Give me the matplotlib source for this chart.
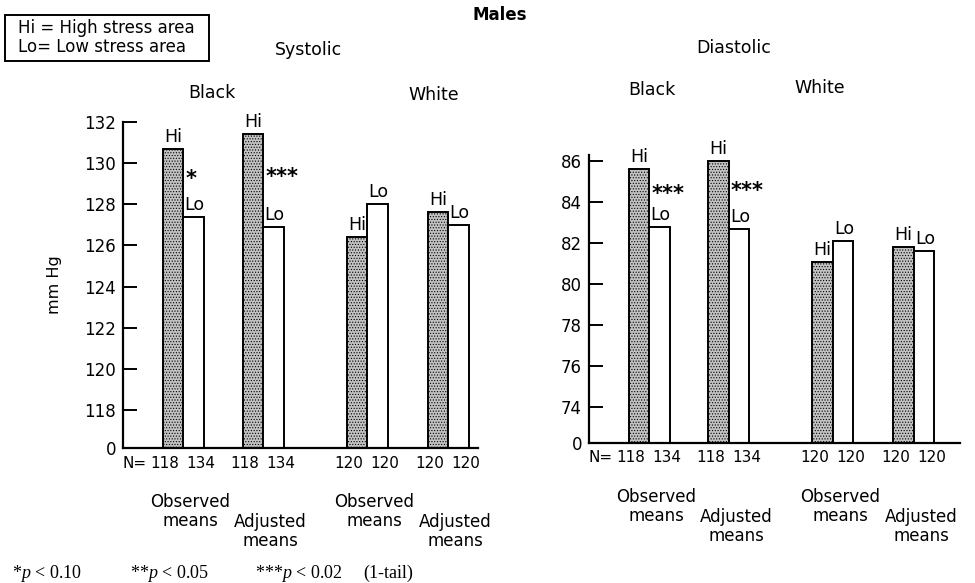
import numpy as np
import matplotlib
matplotlib.use("Agg")
import matplotlib.pyplot as plt
from matplotlib.patches import Rectangle

# values (mm Hg)
groups = ["Observed\nmeans", "Adjusted\nmeans", "Observed\nmeans", "Adjusted\nmeans"]
races = ["Black", "White"]
sys_hi = [130.7, 131.4, 126.4, 127.6]
sys_lo = [127.4, 126.9, 128.0, 127.0]
dia_hi = [85.6, 86.0, 81.1, 81.8]
dia_lo = [82.8, 82.7, 82.1, 81.6]
n_hi = [118, 118, 120, 120]
n_lo = [134, 134, 120, 120]
sys_stars = ["*", "***", "", ""]
dia_stars = ["***", "***", "", ""]
sys_ticks = [0, 118, 120, 122, 124, 126, 128, 130, 132]
dia_ticks = [0, 74, 76, 78, 80, 82, 84, 86]

plt.rcParams["font.family"] = "DejaVu Sans"
plt.rcParams["mathtext.fontset"] = "custom"
plt.rcParams["mathtext.rm"] = "Liberation Serif"
plt.rcParams["mathtext.it"] = "Liberation Serif:italic"
plt.rcParams["hatch.linewidth"] = 0.5

PX = 0.72  # pixels -> points at dpi 100
pos = np.array([2.93, 6.83, 11.9, 15.85])  # Hi/Lo boundary of each pair


def broken_scale(brk, gap):
    # linear above brk, the whole 0..brk range squeezed into `gap` units
    def fwd(v):
        v = np.asarray(v, dtype=float)
        return np.where(v >= brk, v, brk - gap * (brk - v) / brk)

    def inv(u):
        u = np.asarray(u, dtype=float)
        return np.where(u >= brk, u, brk - (brk - u) * brk / gap)

    return fwd, inv


def draw_panel(ax, hi, lo, stars, ticks, brk, gap, top, xmax):
    ax.set_yscale("function", functions=broken_scale(brk, gap))
    ax.bar(pos - 0.5, hi, width=1.0, color="#c2c2c2", edgecolor="black",
           linewidth=1.4, hatch="......", zorder=2)
    ax.bar(pos + 0.5, lo, width=1.0, color="white", edgecolor="black",
           linewidth=1.4, zorder=2)
    ax.set_ylim(0, top)
    ax.set_xlim(0, xmax)
    ax.set_yticks(ticks)
    ax.set_yticklabels([str(t) for t in ticks])
    ax.yaxis.set_minor_locator(matplotlib.ticker.NullLocator())
    ax.set_xticks([])
    ax.tick_params(axis="y", direction="in", length=10, width=1.4,
                   labelsize=12, pad=5)
    for s in ["top", "right"]:
        ax.spines[s].set_visible(False)
    for s in ["left", "bottom"]:
        ax.spines[s].set_linewidth(1.6)

    for i in range(len(pos)):
        ax.annotate("Hi", (pos[i] - 0.5, hi[i]), xytext=(0, 3 * PX),
                    textcoords="offset points", ha="center", va="bottom", fontsize=12.5)
        ax.annotate("Lo", (pos[i] + 0.55, lo[i]), xytext=(0, 3 * PX),
                    textcoords="offset points", ha="center", va="bottom", fontsize=12.5)
        if stars[i]:
            ax.annotate(stars[i], (pos[i] + 0.1, (hi[i] + lo[i]) / 2),
                        xytext=(0, 4 * PX), textcoords="offset points",
                        ha="left", va="center", fontsize=15, fontweight="bold")
        # N row and group names under the baseline
        ax.annotate(str(n_hi[i]), (pos[i] - 0.9, 0), xycoords=("data", "axes fraction"),
                    xytext=(0, -15 * PX), textcoords="offset points",
                    ha="center", va="center", fontsize=11)
        ax.annotate(str(n_lo[i]), (pos[i] + 0.85, 0), xycoords=("data", "axes fraction"),
                    xytext=(0, -15 * PX), textcoords="offset points",
                    ha="center", va="center", fontsize=11)
        drop = 45 if i % 2 == 0 else 65
        ax.annotate(groups[i], (pos[i] + 0.35, 0), xycoords=("data", "axes fraction"),
                    xytext=(0, -drop * PX), textcoords="offset points",
                    ha="center", va="top", fontsize=12, linespacing=1.05)
    ax.annotate("N=", (0, 0), xycoords="axes fraction", xytext=(0, -15 * PX),
                textcoords="offset points", ha="left", va="center", fontsize=11)


fig = plt.figure(figsize=(9.75, 5.83), dpi=100)
ax1 = fig.add_axes([123 / 975, 135 / 583, 355 / 975, 326 / 583])
ax2 = fig.add_axes([589 / 975, 140 / 583, 371 / 975, 288 / 583])

draw_panel(ax1, sys_hi, sys_lo, sys_stars, sys_ticks, 118, 1.85, 132, 17.3)
draw_panel(ax2, dia_hi, dia_lo, dia_stars, dia_ticks, 74, 1.76, 86.3, 18.1)
ax1.set_ylabel("mm Hg", fontsize=11.5, labelpad=16)


def ftext(x, y, s, **kw):
    fig.text(x / 975, 1 - y / 583, s, **kw)


ftext(500, 15, "Males", ha="center", va="center", fontsize=12, fontweight="bold")
ftext(308, 50, "Systolic", ha="center", va="center", fontsize=12.5)
ftext(734, 48, "Diastolic", ha="center", va="center", fontsize=12.5)
ftext(212, 93, races[0], ha="center", va="center", fontsize=12.5)
ftext(434, 95, races[1], ha="center", va="center", fontsize=12.5)
ftext(652, 90, races[0], ha="center", va="center", fontsize=12.5)
ftext(820, 88, races[1], ha="center", va="center", fontsize=12.5)

fig.patches.append(Rectangle((5 / 975, 1 - 61 / 583), 204 / 975, 46 / 583,
                             transform=fig.transFigure, fill=False,
                             edgecolor="black", linewidth=1.4))
ftext(18, 28, "Hi = High stress area", ha="left", va="center", fontsize=12)
ftext(18, 47, "Lo= Low stress area", ha="left", va="center", fontsize=12)

foot = [(12, r"*$p$ < 0.10"), (130, r"**$p$ < 0.05"), (255, r"***$p$ < 0.02"),
        (363, "(1-tail)")]
for x, s in foot:
    ftext(x, 573, s, ha="left", va="center", fontsize=13, family="Liberation Serif")

fig.savefig("out.png", dpi=100)
